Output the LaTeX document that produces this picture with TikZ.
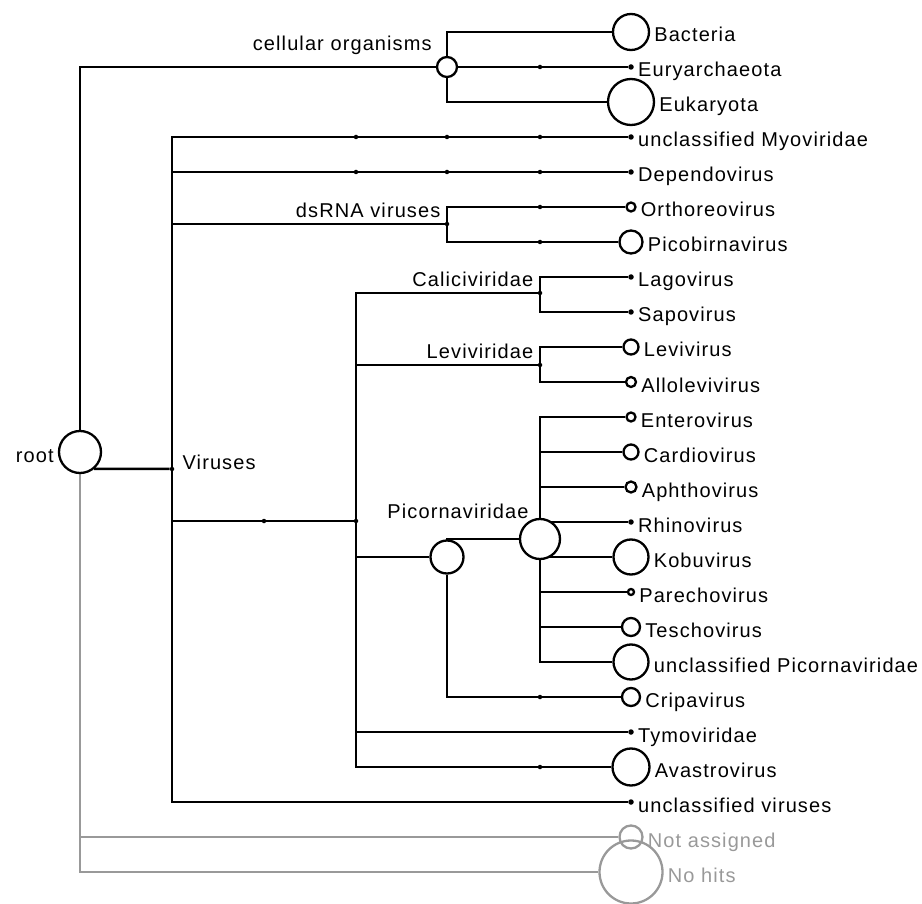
\documentclass[tikz,border=0pt]{standalone}
\usepackage{fontspec}
\setmainfont{Liberation Sans}[LetterSpace=5.5]
\usepackage{tikz}
\usetikzlibrary{backgrounds}

\begin{document}
\begin{tikzpicture}[x=1pt,y=-1pt,
   branch/.style={line width=2.5pt},
   elbow/.style={to path={|- (\tikztotarget)}},
   taxon/.style={circle,draw,fill=white,inner sep=0pt,line width=2.3pt,minimum size=#1},
   tip/.style={circle,fill,inner sep=0pt,minimum size=5.5pt},
   rank/.style={circle,fill,inner sep=0pt,minimum size=4.5pt},
   lab/.style={anchor=base west,yshift=-10pt},
   grp/.style={anchor=base east,yshift=6pt},
   every label/.style={font=\fontsize{20}{24}\selectfont,inner sep=0pt},
   label distance=4pt]
   \useasboundingbox (0,0) rectangle (922,904);

   \draw (80,452) node[taxon=42pt,label={[anchor=base east,yshift=-10pt]west:root}] (root) {};
   \draw (447,67) node[taxon=20pt,label={[grp,yshift=10pt]west:cellular organisms}] (cellular) {};
     \draw (631,32) node[taxon=36pt,label={[lab]right:Bacteria}] (bacteria) {};
     \draw (540,67) node[rank] (eury1) {};
     \draw (631,67) node[tip,label={[lab]right:Euryarchaeota}] (euryarchaeota) {};
     \draw (631,102) node[taxon=46pt,label={[lab]right:Eukaryota}] (eukaryota) {};

   \draw (172,469) node[rank,label={[anchor=base west,xshift=4pt]east:Viruses}] (viruses) {};
     \draw (356,137) node[rank] (myo1) {};
     \draw (447,137) node[rank] (myo2) {};
     \draw (540,137) node[rank] (myo3) {};
     \draw (631,137) node[tip,label={[lab]right:unclassified Myoviridae}] (myoviridae) {};
     \draw (356,172) node[rank] (dep1) {};
     \draw (447,172) node[rank] (dep2) {};
     \draw (540,172) node[rank] (dep3) {};
     \draw (631,172) node[tip,label={[lab]right:Dependovirus}] (dependovirus) {};
   \draw (447,224) node[rank,label={[grp]west:dsRNA viruses}] (dsrna) {};
     \draw (540,207) node[rank] (ortho1) {};
     \draw (631,207) node[taxon=9pt,label={[lab]right:Orthoreovirus}] (orthoreovirus) {};
     \draw (540,242) node[rank] (picob1) {};
     \draw (631,242) node[taxon=23pt,label={[lab]right:Picobirnavirus}] (picobirnavirus) {};
   \draw (264,521) node[rank] (clade1) {};
   \draw (356,521) node[rank] (clade) {};
     \draw (540,293) node[rank,label={[grp]west:Caliciviridae}] (calici) {};
     \draw (631,277) node[tip,label={[lab]right:Lagovirus}] (lagovirus) {};
     \draw (631,312) node[tip,label={[lab]right:Sapovirus}] (sapovirus) {};
     \draw (540,365) node[rank,label={[grp]west:Leviviridae}] (levi) {};
     \draw (631,347) node[taxon=15pt,label={[lab]right:Levivirus}] (levivirus) {};
     \draw (631,382) node[taxon=10pt,label={[lab]right:Allolevivirus}] (allolevivirus) {};
     \draw (447,557) node[taxon=33pt,label={[anchor=base,xshift=11pt,yshift=16.5pt]north:Picornaviridae}] (picorna) {};
     \draw (540,539) node[taxon=40pt] (picorna2) {};
     \draw (631,417) node[taxon=9pt,label={[lab]right:Enterovirus}] (enterovirus) {};
     \draw (631,452) node[taxon=15pt,label={[lab]right:Cardiovirus}] (cardiovirus) {};
     \draw (631,487) node[taxon=11pt,label={[lab]right:Aphthovirus}] (aphthovirus) {};
     \draw (631,522) node[tip,label={[lab]right:Rhinovirus}] (rhinovirus) {};
     \draw (631,557) node[taxon=35pt,label={[lab]right:Kobuvirus}] (kobuvirus) {};
     \draw (631,592) node[taxon=6pt,label={[lab]right:Parechovirus}] (parechovirus) {};
     \draw (631,627) node[taxon=18pt,label={[lab]right:Teschovirus}] (teschovirus) {};
     \draw (631,662) node[taxon=35pt,label={[lab]right:unclassified Picornaviridae}] (unpicorna) {};
     \draw (540,697) node[rank] (cripa1) {};
     \draw (631,697) node[taxon=18pt,label={[lab]right:Cripavirus}] (cripavirus) {};
     \draw (631,732) node[tip,label={[lab]right:Tymoviridae}] (tymoviridae) {};
     \draw (540,767) node[rank] (ava1) {};
     \draw (631,767) node[taxon=37pt,label={[lab]right:Avastrovirus}] (avastrovirus) {};
   \draw (631,802) node[tip,label={[lab]right:unclassified viruses}] (unviruses) {};

   \draw (631,837) node[taxon=23pt,draw=gray!80,fill=none,label={[lab,gray!80]right:Not assigned}] (notassigned) {};
   \draw (631,872) node[taxon=63pt,draw=gray!80,fill=none,label={[lab,gray!80]right:No hits}] (nohits) {};

   \begin{pgfonlayer}{background}
   \path[branch] (root) edge[elbow] (cellular)
      (root.-50) edge (viruses);
   \path[branch,gray!80,line width=2.2pt] (root) edge[elbow] (notassigned)
      (root) edge[elbow] (nohits);
   \path[branch] (cellular) edge[elbow] (bacteria)
      (cellular) edge (eury1) (eury1) edge (euryarchaeota)
      (cellular) edge[elbow] (eukaryota);
   \path[branch] (viruses) edge[elbow] (myo1) (myo1) edge (myo2) (myo2) edge (myo3) (myo3) edge (myoviridae)
      (viruses) edge[elbow] (dep1) (dep1) edge (dep2) (dep2) edge (dep3) (dep3) edge (dependovirus)
      (viruses) edge[elbow] (dsrna)
      (viruses) edge[elbow] (clade1) (clade1) edge (clade)
      (viruses) edge[elbow] (unviruses);
   \path[branch] (dsrna) edge[elbow] (ortho1) (ortho1) edge (orthoreovirus)
      (dsrna) edge[elbow] (picob1) (picob1) edge (picobirnavirus);
   \path[branch] (clade) edge[elbow] (calici)
      (clade) edge[elbow] (levi)
      (clade) edge[elbow] (picorna)
      (clade) edge[elbow] (tymoviridae)
      (clade) edge[elbow] (ava1) (ava1) edge (avastrovirus);
   \path[branch] (calici) edge[elbow] (lagovirus)
      (calici) edge[elbow] (sapovirus);
   \path[branch] (levi) edge[elbow] (levivirus)
      (levi) edge[elbow] (allolevivirus);
   \path[branch] (picorna) edge[elbow] (picorna2)
      (picorna) edge[elbow] (cripa1) (cripa1) edge (cripavirus);
   \path[branch] (picorna2) edge[elbow] (enterovirus)
      (picorna2) edge[elbow] (cardiovirus)
      (picorna2) edge[elbow] (aphthovirus)
      (picorna2) edge[elbow] (rhinovirus)
      (picorna2) edge[elbow] (kobuvirus)
      (picorna2) edge[elbow] (parechovirus)
      (picorna2) edge[elbow] (teschovirus)
      (picorna2) edge[elbow] (unpicorna);
   \end{pgfonlayer}
\end{tikzpicture}
\end{document}
